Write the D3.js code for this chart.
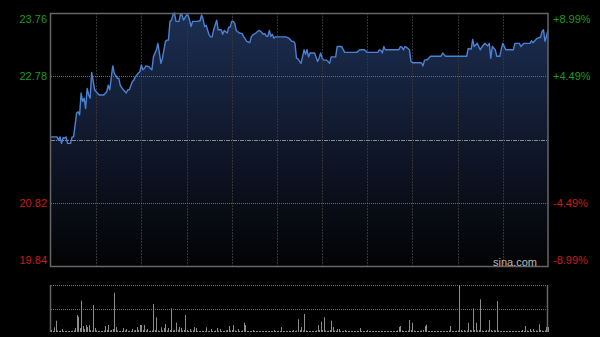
<!DOCTYPE html>
<html>
<head>
<meta charset="utf-8">
<script src="https://cdn.jsdelivr.net/npm/d3@7"></script>
<style>
  html, body { margin: 0; padding: 0; background: #000; }
  svg { display: block; }
</style>
</head>
<body>
<div id="chart"></div>
<script>
// minute offsets from 9:30 (HK session, lunch removed) and traded price
var minutes = [0, 4, 5, 6, 7, 8, 9, 10, 11, 13, 14, 15, 17, 18, 19, 20, 21, 22, 23, 24, 25, 26, 27, 29, 30, 32, 35, 37, 38, 39,
    41, 42, 44, 45, 46, 48, 50, 51, 52, 54, 55, 56, 58, 59, 60, 61, 62, 63, 65, 66, 67, 68, 70, 71, 73, 74, 76, 77, 78, 79,
    80, 81, 82, 83, 85, 86, 87, 88, 90, 91, 92, 93, 94, 97, 99, 100, 101, 102, 103, 105, 106, 107, 108, 110, 111, 113, 114, 115, 116, 117,
    118, 119, 120, 121, 122, 123, 125, 127, 128, 130, 132, 133, 134, 136, 138, 139, 141, 142, 143, 144, 145, 146, 147, 148, 149, 150, 156, 158, 160, 161,
    162, 163, 164, 166, 167, 168, 169, 170, 171, 172, 174, 175, 177, 178, 179, 180, 181, 183, 185, 186, 189, 190, 193, 195, 203, 205, 208, 210, 217, 218,
    219, 220, 221, 222, 231, 232, 233, 234, 235, 236, 238, 239, 240, 246, 247, 248, 250, 252, 259, 260, 262, 276, 277, 279, 280, 281, 283, 285, 286, 288,
    290, 291, 292, 293, 295, 296, 298, 299, 300, 302, 307, 308, 311, 312, 314, 318, 319, 320, 322, 324, 325, 326, 327, 328, 330];
var prices = [21.84, 21.84, 21.79, 21.84, 21.74, 21.83, 21.82, 21.84, 21.74, 21.74, 21.84, 21.84, 22.21, 22.23, 22.18, 22.52, 22.39, 22.44, 22.28, 22.59, 22.49, 22.44, 22.84, 22.57, 22.54, 22.49, 22.49, 22.54, 22.64, 22.57,
    22.94, 22.83, 22.75, 22.75, 22.64, 22.57, 22.52, 22.57, 22.57, 22.70, 22.72, 22.77, 22.83, 22.85, 22.95, 22.88, 22.90, 22.94, 22.93, 22.90, 22.88, 23.08, 23.19, 23.29, 22.98, 23.06, 23.32, 23.34, 23.34, 23.63,
    23.65, 23.73, 23.76, 23.63, 23.63, 23.74, 23.73, 23.65, 23.73, 23.73, 23.65, 23.55, 23.63, 23.63, 23.64, 23.73, 23.66, 23.55, 23.57, 23.42, 23.39, 23.39, 23.50, 23.65, 23.50, 23.50, 23.43, 23.49, 23.47, 23.45,
    23.54, 23.54, 23.63, 23.63, 23.60, 23.49, 23.45, 23.44, 23.39, 23.32, 23.30, 23.39, 23.42, 23.45, 23.49, 23.48, 23.43, 23.44, 23.40, 23.40, 23.49, 23.40, 23.43, 23.37, 23.39, 23.39, 23.39, 23.37, 23.32, 23.32,
    23.29, 23.06, 23.05, 22.98, 23.08, 23.19, 23.12, 23.19, 23.08, 23.14, 23.14, 23.14, 23.01, 23.06, 23.14, 23.06, 23.03, 23.03, 22.98, 23.08, 23.08, 23.24, 23.24, 23.15, 23.15, 23.19, 23.19, 23.15, 23.15, 23.19,
    23.18, 23.14, 23.24, 23.19, 23.19, 23.24, 23.23, 23.19, 23.24, 23.23, 23.19, 23.01, 22.99, 22.99, 22.94, 23.03, 23.04, 23.09, 23.09, 23.14, 23.09, 23.09, 23.21, 23.20, 23.35, 23.24, 23.29, 23.19, 23.23, 23.29,
    23.25, 23.29, 23.06, 23.24, 23.19, 23.09, 23.09, 23.20, 23.29, 23.19, 23.19, 23.29, 23.29, 23.24, 23.29, 23.29, 23.33, 23.30, 23.35, 23.38, 23.38, 23.47, 23.50, 23.32, 23.49];

// volume per minute (0..330)
var volumes = [
    20, 10, 47, 113, 15, 10, 12, 30, 10, 8, 10, 8, 10, 8, 12, 15, 40, 170, 153, 40, 313, 60, 30, 70, 50, 70, 20, 15, 270, 40,
    15, 10, 12, 8, 10, 15, 60, 20, 70, 15, 20, 30, 393, 50, 15, 10, 8, 10, 40, 15, 30, 10, 12, 10, 30, 15, 20, 50, 20, 70,
    70, 20, 70, 15, 30, 10, 12, 15, 280, 20, 147, 15, 10, 47, 15, 40, 80, 15, 40, 20, 237, 15, 20, 93, 20, 50, 40, 15, 20, 170,
    20, 10, 30, 12, 15, 50, 40, 10, 8, 10, 12, 8, 10, 47, 10, 12, 30, 8, 10, 15, 40, 10, 30, 8, 10, 12, 15, 20, 60, 15,
    20, 70, 15, 10, 30, 10, 8, 15, 93, 70, 10, 8, 10, 8, 20, 8, 10, 5, 8, 5, 8, 10, 5, 8, 5, 10, 8, 5, 20, 8,
    10, 8, 10, 50, 8, 10, 5, 8, 10, 8, 12, 20, 10, 15, 127, 20, 50, 15, 180, 15, 10, 8, 10, 8, 12, 10, 15, 70, 20, 103,
    20, 147, 15, 10, 12, 20, 113, 50, 15, 12, 30, 30, 10, 8, 10, 20, 8, 5, 8, 10, 5, 8, 5, 8, 10, 40, 8, 5, 8, 5,
    20, 5, 8, 5, 8, 5, 8, 5, 8, 10, 5, 8, 5, 8, 5, 8, 5, 8, 5, 10, 15, 50, 60, 15, 10, 8, 10, 15, 120, 20,
    93, 15, 10, 8, 10, 12, 15, 20, 60, 73, 10, 8, 5, 8, 5, 8, 5, 8, 5, 8, 10, 5, 8, 10, 15, 60, 10, 8, 10, 12,
    15, 470, 20, 10, 20, 12, 15, 93, 20, 15, 237, 20, 93, 15, 20, 327, 15, 10, 12, 20, 15, 120, 20, 10, 20, 15, 310, 15, 10, 8,
    10, 8, 5, 8, 5, 8, 10, 5, 8, 5, 8, 10, 8, 20, 10, 60, 15, 10, 30, 12, 30, 10, 15, 12, 77, 20, 15, 10, 15, 50,
    50];

var prevClose = 21.80;
var priceTicks = [19.84, 20.82, 21.80, 22.78, 23.76];
var pctTicks = ["-8.99%", "-4.49%", "", "+4.49%", "+8.99%"];
var timeGrid = [30, 60, 90, 120, 150, 180, 210, 240, 270, 300];

var W = 600, H = 337;
var plotL = 51, plotR = 548, plotT = 13, plotB = 266;
var volT = 285, volB = 332;
var upColor = "#1c9a1c", downColor = "#cc1a1a";
var lineColor = "#4a82d4", frameColor = "#666666";

var svg = d3.select("#chart")
    .append("svg")
    .attr("width", W)
    .attr("height", H);

var x = d3.scaleLinear().domain([0, 330]).range([plotL, plotR]);
var y = d3.scaleLinear().domain([19.84, 23.76]).range([plotB, plotT]);
var yv = d3.scaleLinear().domain([0, d3.max(volumes)]).range([volB, volT]);

var defs = svg.append("defs");
var grad = defs.append("linearGradient")
    .attr("id", "areaGrad")
    .attr("gradientUnits", "userSpaceOnUse")
    .attr("x1", 0).attr("y1", plotT)
    .attr("x2", 0).attr("y2", plotB);
grad.append("stop").attr("offset", "0%").attr("stop-color", "#1c2e52");
grad.append("stop").attr("offset", "55%").attr("stop-color", "#0f1628");
grad.append("stop").attr("offset", "100%").attr("stop-color", "#030304");

var series = minutes.map(function (m, i) { return { m: m, p: prices[i] }; });

// area under price line
svg.append("path")
    .datum(series)
    .attr("d", d3.area()
        .x(function (d) { return x(d.m); })
        .y0(plotB)
        .y1(function (d) { return y(d.p); }))
    .attr("fill", "url(#areaGrad)");

// vertical grid
timeGrid.forEach(function (t) {
    svg.append("line")
        .attr("x1", Math.round(x(t)) + 0.5).attr("x2", Math.round(x(t)) + 0.5)
        .attr("y1", plotT).attr("y2", plotB)
        .attr("stroke", "#343434")
        .attr("stroke-dasharray", "2,1");
});

// horizontal grid
priceTicks.slice(1, 4).forEach(function (p) {
    var isPrev = p === prevClose;
    svg.append("line")
        .attr("x1", plotL).attr("x2", plotR)
        .attr("y1", Math.round(y(p)) + 0.5).attr("y2", Math.round(y(p)) + 0.5)
        .attr("stroke", isPrev ? "#8a8a8a" : "#6a6a6a")
        .attr("stroke-dasharray", isPrev ? "4,1,1,1" : "1,1");
});

// price line
svg.append("path")
    .datum(series)
    .attr("d", d3.line()
        .x(function (d) { return x(d.m); })
        .y(function (d) { return y(d.p); }))
    .attr("fill", "none")
    .attr("stroke", lineColor)
    .attr("stroke-width", 1.4)
    .attr("stroke-linejoin", "round");

// frame
svg.append("rect")
    .attr("x", plotL - 0.5).attr("y", plotT + 0.5)
    .attr("width", plotR - plotL + 0.5).attr("height", plotB - plotT)
    .attr("fill", "none")
    .attr("stroke", frameColor)
    .attr("stroke-width", 1.5);

// axis labels
priceTicks.forEach(function (p, i) {
    if (p === prevClose) return;
    var ty = y(p);
    if (i === priceTicks.length - 1) ty += 6;
    if (i === 0) ty -= 6;
    var c = p > prevClose ? upColor : downColor;
    svg.append("text")
        .attr("x", 47).attr("y", ty)
        .attr("dy", "0.35em")
        .attr("text-anchor", "end")
        .attr("font-family", "Arial, 'Liberation Sans', sans-serif")
        .attr("font-size", "11px")
        .attr("fill", c)
        .text(p.toFixed(2));
    svg.append("text")
        .attr("x", 553).attr("y", ty)
        .attr("dy", "0.35em")
        .attr("font-family", "Arial, 'Liberation Sans', sans-serif")
        .attr("font-size", "11px")
        .attr("fill", c)
        .text(pctTicks[i]);
});

svg.append("text")
    .attr("x", 537).attr("y", 262)
    .attr("dy", "0.35em")
    .attr("text-anchor", "end")
    .attr("font-family", "Arial, 'Liberation Sans', sans-serif")
    .attr("font-size", "11px")
    .attr("fill", "#b8b8b8")
    .text("sina.com");

// volume panel
[volT, (volT + volB) / 2].forEach(function (gy) {
    svg.append("line")
        .attr("x1", plotL).attr("x2", plotR)
        .attr("y1", Math.round(gy) + 0.5).attr("y2", Math.round(gy) + 0.5)
        .attr("stroke", "#707070")
        .attr("stroke-dasharray", "1,1");
});
[plotL, plotR].forEach(function (gx) {
    svg.append("line")
        .attr("x1", gx - 0.5).attr("x2", gx - 0.5)
        .attr("y1", volT).attr("y2", volB)
        .attr("stroke", frameColor)
        .attr("stroke-width", 1.5);
});

svg.append("g")
    .selectAll("line")
    .data(volumes)
    .enter()
    .append("line")
    .attr("x1", function (d, i) { return Math.round(x(i)) + 0.5; })
    .attr("x2", function (d, i) { return Math.round(x(i)) + 0.5; })
    .attr("y1", volB)
    .attr("y2", function (d) { return Math.min(yv(d), volB - 1); })
    .attr("stroke", "#8c8c8c")
    .attr("stroke-width", 1);
</script>
</body>
</html>
